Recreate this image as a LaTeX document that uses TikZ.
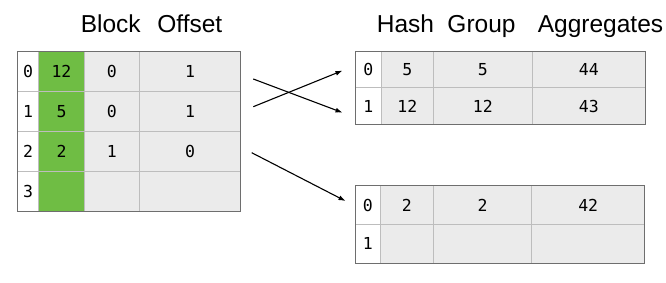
\documentclass[tikz,border=0pt]{standalone}
\usepackage{fontspec}
\setmainfont{Liberation Sans}
\newfontfamily\monof{DejaVu Sans Mono}
\usetikzlibrary{arrows.meta}
\definecolor{cellgray}{HTML}{EBEBEB}
\definecolor{gridgray}{HTML}{BDBDBD}
\definecolor{bordergray}{HTML}{6E6E6E}
\definecolor{blockgreen}{HTML}{6FBD44}
\tikzset{
  cellbox/.style={draw=gridgray,line width=0.9pt,inner sep=0pt,outer sep=0pt,
    font=\monof\fontsize{16.5}{18}\selectfont,text=black},
  idx/.style={fill=white},
  dat/.style={fill=cellgray},
  grn/.style={fill=blockgreen},
  frame/.style={draw=bordergray,line width=1.1pt},
  title/.style={font=\fontsize{24.5}{28}\selectfont,anchor=base,inner sep=0pt},
  conn/.style={line width=1.1pt,-{Latex[length=7pt,width=5pt]}}
}
\newcommand\mkcell[7]{%
  \node[cellbox,#6,minimum width={#4pt-#2pt},minimum height={#5pt-#3pt}] (#1)
    at ({(#2+#4)/2},{(#3+#5)/2}) {#7};}
\begin{document}
\begin{tikzpicture}[x=1pt,y=-1pt]
\useasboundingbox (0,0) rectangle (666,282);
% titles
\node[title] (tblock) at (110.8,32.5) {Block};
\node[title] (toff) at (189.8,32.5) {Offset};
\node[title] (thash) at (405.5,32.5) {Hash};
\node[title] (tgroup) at (481.5,32.5) {Group};
\node[title] (tagg) at (600.5,32.5) {Aggregates};
% left table
\mkcell{L00}{17.3}{51.7}{38.7}{91.5}{idx}{0}
\mkcell{L01}{38.7}{51.7}{84.3}{91.5}{grn}{12}
\mkcell{L02}{84.3}{51.7}{139.3}{91.5}{dat}{0}
\mkcell{L03}{139.3}{51.7}{240.7}{91.5}{dat}{1}
\mkcell{L10}{17.3}{91.5}{38.7}{131.5}{idx}{1}
\mkcell{L11}{38.7}{91.5}{84.3}{131.5}{grn}{5}
\mkcell{L12}{84.3}{91.5}{139.3}{131.5}{dat}{0}
\mkcell{L13}{139.3}{91.5}{240.7}{131.5}{dat}{1}
\mkcell{L20}{17.3}{131.5}{38.7}{171.7}{idx}{2}
\mkcell{L21}{38.7}{131.5}{84.3}{171.7}{grn}{2}
\mkcell{L22}{84.3}{131.5}{139.3}{171.7}{dat}{1}
\mkcell{L23}{139.3}{131.5}{240.7}{171.7}{dat}{0}
\mkcell{L30}{17.3}{171.7}{38.7}{211.3}{idx}{3}
\mkcell{L31}{38.7}{171.7}{84.3}{211.3}{grn}{}
\mkcell{L32}{84.3}{171.7}{139.3}{211.3}{dat}{}
\mkcell{L33}{139.3}{171.7}{240.7}{211.3}{dat}{}
\draw[frame] (L00.north west) rectangle (L33.south east);
% right top table
\mkcell{A00}{355.3}{51.7}{381.3}{87.7}{idx}{0}
\mkcell{A01}{381.3}{51.7}{433.3}{87.7}{dat}{5}
\mkcell{A02}{433.3}{51.7}{532.3}{87.7}{dat}{5}
\mkcell{A03}{532.3}{51.7}{645.3}{87.7}{dat}{44}
\mkcell{A10}{355.3}{87.7}{381.3}{124.3}{idx}{1}
\mkcell{A11}{381.3}{87.7}{433.3}{124.3}{dat}{12}
\mkcell{A12}{433.3}{87.7}{532.3}{124.3}{dat}{12}
\mkcell{A13}{532.3}{87.7}{645.3}{124.3}{dat}{43}
\draw[frame] (A00.north west) rectangle (A13.south east);
% right bottom table
\mkcell{B00}{355.3}{185.7}{380.3}{224.3}{idx}{0}
\mkcell{B01}{380.3}{185.7}{433.3}{224.3}{dat}{2}
\mkcell{B02}{433.3}{185.7}{531.7}{224.3}{dat}{2}
\mkcell{B03}{531.7}{185.7}{644.7}{224.3}{dat}{42}
\mkcell{B10}{355.3}{224.3}{380.3}{263.3}{idx}{1}
\mkcell{B11}{380.3}{224.3}{433.3}{263.3}{dat}{}
\mkcell{B12}{433.3}{224.3}{531.7}{263.3}{dat}{}
\mkcell{B13}{531.7}{224.3}{644.7}{263.3}{dat}{}
\draw[frame] (B00.north west) rectangle (B13.south east);
% connectors
\coordinate (s1) at (253.3,79);
\coordinate (e1) at (342.5,112.6);
\coordinate (s2) at (253.3,106.7);
\coordinate (e2) at (342.5,70.6);
\coordinate (s3) at (251.7,152.7);
\coordinate (e3) at (345.5,201);
\draw[conn] (s1) -- (e1);
\draw[conn] (s2) -- (e2);
\draw[conn] (s3) -- (e3);
\end{tikzpicture}
\end{document}
